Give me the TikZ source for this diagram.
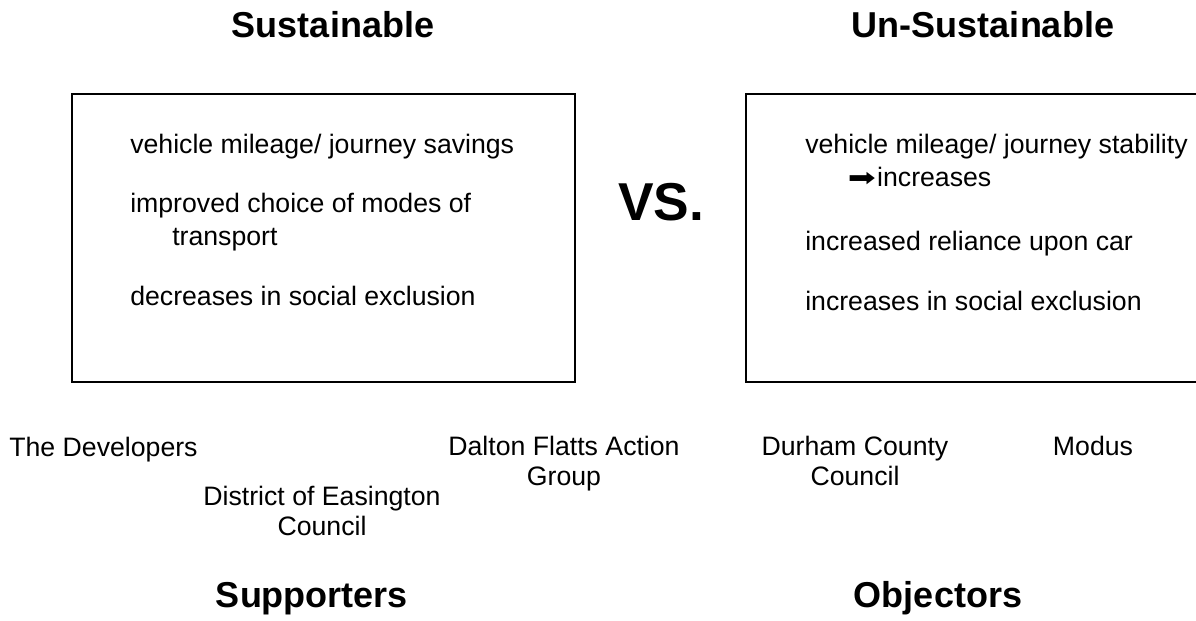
\documentclass[tikz,border=0pt]{standalone}
\usepackage{fontspec}
\setmainfont{Liberation Sans}
\newfontfamily\arrowfont{DejaVu Sans}
\usepackage{graphicx}
\usepackage{tikz}
\usetikzlibrary{positioning,calc}

\begin{document}
\begin{tikzpicture}[x=0.75pt, y=-0.75pt,
        panel/.style={draw, line width=1.2pt},
        heading/.style={font=\fontsize{27}{30}\selectfont\bfseries, anchor=base, inner sep=0pt},
        item/.style={font=\fontsize{20}{24.5}\selectfont, anchor=base west, align=left, inner sep=0pt},
        party/.style={font=\fontsize{20}{22.5}\selectfont, anchor=base, align=center, inner sep=0pt}
    ]
        \useasboundingbox (0,0) rectangle (1196,621);
        \clip (0,0) rectangle (1196,621);

        % the two sides
        \node [heading] (sus) at (333,37) {Sustainable};
        \node [heading] (unsus) at (983,37) {Un-Sustainable};
        \draw [panel] (72,94) rectangle (575,382);
        \draw [panel] (1210,94) -| (746,382) -- (1210,382);
        \node [heading, font=\fontsize{40}{44}\selectfont\bfseries] (vs) at (661,220) {VS.};

        % multi-line nodes sit on the baseline of their last line
        \node [item] (pro1) at (130,153) {vehicle mileage/ journey savings};
        \node [item] (pro2) at (130,245) {improved choice of modes of\\\hspace*{31.5pt}transport};
        \node [item] (pro3) at (130,305) {decreases in social exclusion};

        \node [item] (con1) at (805,186) {vehicle mileage/ journey stability\\\hspace*{32pt}\scalebox{1.25}[0.95]{\arrowfont ➡}\hspace{1pt}increases};
        \node [item] (con2) at (805,250) {increased reliance upon car};
        \node [item] (con3) at (805,310) {increases in social exclusion};

        % who stands where
        \node [party] (dev) at (103.5,456) {The Developers};
        \node [party] (dec) at (322,535) {District of Easington\\Council};
        \node [party] (dfag) at (564,485) {Dalton Flatts Action\\Group};
        \node [party] (dcc) at (855,485) {Durham County\\Council};
        \node [party] (modus) at (1093,455) {Modus};

        \node [heading] (sup) at (312,607) {Supporters};
        \node [heading] (obj) at (938,607) {Objectors};

    \end{tikzpicture}
\end{document}
